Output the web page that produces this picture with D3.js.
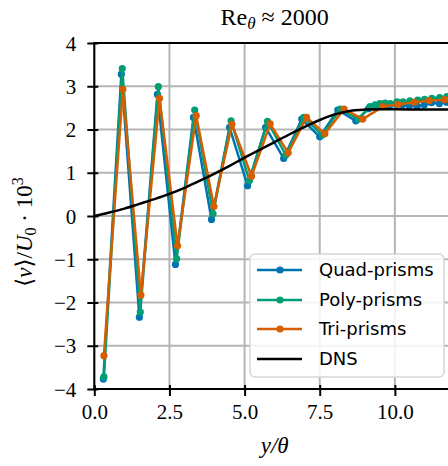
<!DOCTYPE html>
<html>
<head>
<meta charset="utf-8">
<script src="https://cdn.jsdelivr.net/npm/d3@7"></script>
<style>
  html, body { margin: 0; padding: 0; background: #fff; }
  svg { display: block; }
</style>
</head>
<body>
<svg id="chart" width="448" height="466"></svg>
<script>
// ---------- data ----------
const xTicks = [0, 2.5, 5, 7.5, 10];
const yTicks = [-4, -3, -2, -1, 0, 1, 2, 3, 4];

const quadX = [0.3, 0.9, 1.5, 2.1, 2.7, 3.3, 3.9, 4.5, 5.1, 5.7, 6.3, 6.9, 7.5, 8.1, 8.7,
               9.12, 9.3, 9.47, 9.64, 9.82, 10.05, 10.25, 10.48, 10.74, 10.98, 11.22, 11.48, 11.72, 12.0];
const quadY = [-3.77, 3.28, -2.34, 2.81, -1.12, 2.28, -0.08, 2.05, 0.70, 2.05, 1.33, 2.24, 1.83, 2.45, 2.20,
               2.48, 2.52, 2.55, 2.56, 2.55, 2.58, 2.57, 2.55, 2.54, 2.57, 2.62, 2.60, 2.63, 2.65];

const polyX = [0.32, 0.93, 1.53, 2.13, 2.74, 3.34, 3.95, 4.55, 5.16, 5.76, 6.37, 6.97, 7.58, 8.18, 8.79,
               9.17, 9.34, 9.5, 9.67, 9.84, 10.07, 10.27, 10.5, 10.76, 10.99, 11.23, 11.49, 11.73, 12.0];
const polyY = [-3.72, 3.41, -2.22, 2.99, -0.99, 2.45, 0.05, 2.20, 0.82, 2.19, 1.41, 2.28, 1.87, 2.47, 2.24,
               2.53, 2.57, 2.60, 2.61, 2.60, 2.64, 2.64, 2.66, 2.68, 2.70, 2.72, 2.74, 2.76, 2.77];

const triX = [0.32, 0.95, 1.55, 2.17, 2.77, 3.39, 3.98, 4.58, 5.23, 5.85, 6.45, 7.06, 7.67, 8.31, 8.93,
              9.6, 10.1, 10.65, 11.14, 11.65, 12.0];
const triY = [-3.23, 2.93, -1.83, 2.72, -0.69, 2.32, 0.22, 2.12, 0.92, 2.13, 1.46, 2.28, 1.90, 2.47, 2.24,
              2.53, 2.58, 2.63, 2.67, 2.69, 2.70];

const dnsX = [0, 0.5, 1, 1.5, 2, 2.5, 3, 3.5, 4, 4.5, 5, 5.5, 6, 6.5, 7, 7.5, 8, 8.5, 9, 9.5, 10, 11, 12];
const dnsY = [0, 0.08, 0.17, 0.28, 0.39, 0.51, 0.65, 0.81, 0.98, 1.16, 1.35, 1.53, 1.71, 1.89, 2.06, 2.22, 2.35, 2.43, 2.46, 2.47, 2.47, 2.46, 2.46];

const seriesNames = ["Quad-prisms", "Poly-prisms", "Tri-prisms", "DNS"];
const seriesColors = ["#0173b2", "#029e73", "#d55e00", "#000000"];

// ---------- layout ----------
const L = 94.3, R = 455, T = 43, B = 389;
const svg = d3.select("#chart");
const x = d3.scaleLinear().domain([0, 12]).range([L, R]);
const y = d3.scaleLinear().domain([-4, 4]).range([B, T]);
const serif = "'Liberation Serif', 'DejaVu Serif', serif";
const sans = "'DejaVu Sans', sans-serif";

svg.append("defs").append("clipPath").attr("id", "clip")
  .append("rect").attr("x", L).attr("y", T).attr("width", R - L).attr("height", B - T);

// grid
const grid = svg.append("g").attr("stroke", "#b5b5b5").attr("stroke-width", 2);
xTicks.forEach(t => grid.append("line").attr("x1", x(t)).attr("x2", x(t)).attr("y1", T).attr("y2", B));
yTicks.forEach(t => grid.append("line").attr("x1", L).attr("x2", R).attr("y1", y(t)).attr("y2", y(t)));

// series
const plot = svg.append("g").attr("clip-path", "url(#clip)");
const lineGen = d3.line().x(d => x(d[0])).y(d => y(d[1]));
const pts = [
  d3.zip(quadX, quadY),
  d3.zip(polyX, polyY),
  d3.zip(triX, triY)
];
pts.forEach((p, i) => {
  const g = plot.append("g");
  g.append("path").attr("d", lineGen(p)).attr("fill", "none")
    .attr("stroke", seriesColors[i]).attr("stroke-width", 2.5).attr("stroke-linejoin", "round");
  g.selectAll("circle").data(p).join("circle")
    .attr("cx", d => x(d[0])).attr("cy", d => y(d[1])).attr("r", 3.6)
    .attr("fill", seriesColors[i]);
});
const dnsLine = d3.line().x(d => x(d[0])).y(d => y(d[1])).curve(d3.curveMonotoneX);
plot.append("path").attr("d", dnsLine(d3.zip(dnsX, dnsY))).attr("fill", "none")
  .attr("stroke", "#000").attr("stroke-width", 2.5);

// axes frame
svg.append("rect").attr("x", L).attr("y", T).attr("width", R - L).attr("height", B - T)
  .attr("fill", "none").attr("stroke", "#000").attr("stroke-width", 2);

// axes ticks
const xAxis = d3.axisBottom(x).tickValues(xTicks).tickSizeInner(7).tickSizeOuter(0)
  .tickFormat(d => d3.format(".1f")(d));
const gx = svg.append("g").attr("transform", `translate(0,${B})`).call(xAxis);
gx.select(".domain").remove();
gx.selectAll(".tick line").attr("stroke", "#000").attr("stroke-width", 2).attr("y1", -4);
gx.selectAll(".tick text").attr("font-family", serif).attr("font-size", 21).attr("fill", "#000")
  .attr("dy", "0.95em").attr("y", 10);

const yAxis = d3.axisLeft(y).tickValues(yTicks).tickSizeInner(7).tickSizeOuter(0)
  .tickFormat(d => d < 0 ? "\u2212" + Math.abs(d) : String(d));
const gy = svg.append("g").attr("transform", `translate(${L},0)`).call(yAxis);
gy.select(".domain").remove();
gy.selectAll(".tick line").attr("stroke", "#000").attr("stroke-width", 2).attr("x1", 4);
gy.selectAll(".tick text").attr("font-family", serif).attr("font-size", 21).attr("fill", "#000")
  .attr("x", -18).attr("dy", "0.34em");

// title
const title = svg.append("text").attr("x", (L + R) / 2).attr("y", 25).attr("text-anchor", "middle")
  .attr("font-family", serif).attr("font-size", 24).attr("fill", "#000");
title.append("tspan").text("Re");
title.append("tspan").attr("font-style", "italic").attr("font-size", 17).attr("dy", 4).text("θ");
title.append("tspan").attr("dy", -4).text(" ≈ 2000");

// x label
svg.append("text").attr("x", (L + R) / 2).attr("y", 453).attr("text-anchor", "middle")
  .attr("font-family", serif).attr("font-size", 23).attr("fill", "#000").attr("font-style", "italic")
  .text("y/θ");

// y label
const yl = svg.append("text").attr("transform", "translate(32,232) rotate(-90)").attr("text-anchor", "middle")
  .attr("font-family", serif).attr("font-size", 23).attr("fill", "#000");
yl.append("tspan").text("⟨");
yl.append("tspan").attr("font-style", "italic").text("v");
yl.append("tspan").text("⟩/");
yl.append("tspan").attr("font-style", "italic").text("U");
yl.append("tspan").attr("font-size", 16).attr("dy", 4).text("0");
yl.append("tspan").attr("dy", -4).text(" · 10");
yl.append("tspan").attr("font-size", 16).attr("dy", -9).text("3");

// legend
const lg = svg.append("g");
lg.append("rect").attr("x", 250).attr("y", 254).attr("width", 194).attr("height", 123)
  .attr("rx", 5).attr("fill", "#fff").attr("fill-opacity", 0.85)
  .attr("stroke", "#d6d6d6").attr("stroke-width", 1.5);
const rowY = [270, 300, 329, 359];
seriesNames.forEach((name, i) => {
  lg.append("line").attr("x1", 257).attr("x2", 302).attr("y1", rowY[i]).attr("y2", rowY[i])
    .attr("stroke", seriesColors[i]).attr("stroke-width", 2.5);
  if (i < 3) lg.append("circle").attr("cx", 280).attr("cy", rowY[i]).attr("r", 3.6).attr("fill", seriesColors[i]);
  lg.append("text").attr("x", 319).attr("y", rowY[i]).attr("dy", "0.36em")
    .attr("font-family", sans).attr("font-size", 18).attr("fill", "#000").text(name);
});
</script>
</body>
</html>
